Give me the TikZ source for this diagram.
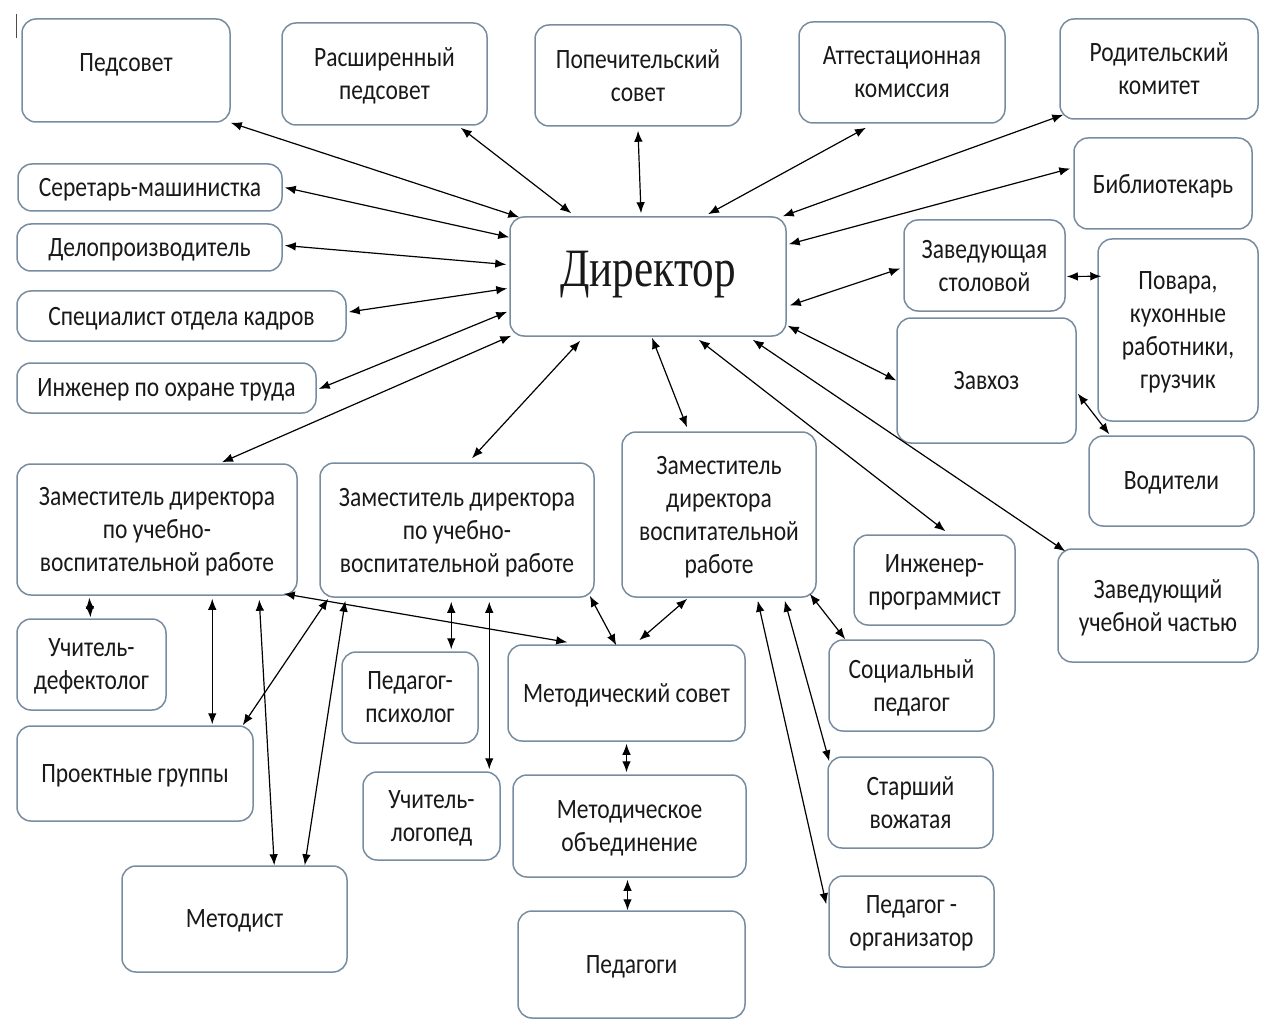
\documentclass[tikz,border=0pt]{standalone}
\usepackage{fontspec}
\setmainfont[FakeStretch=0.84]{Carlito}
\newfontfamily\dirfont[FakeStretch=0.8]{Liberation Serif}
\usetikzlibrary{arrows.meta,calc}
\definecolor{boxc}{RGB}{120,140,160}
\newcommand\mkbox[7][]{\node[box,#1,minimum width={(#4-(#2))*0.5pt},minimum height={(#5-(#3))*0.5pt}] (#6) at ({(#2+#4)/2},{(#3+#5)/2}) {#7};}
\begin{document}
\begin{tikzpicture}[x=0.5pt,y=-0.5pt,
  box/.style={draw=boxc,line width=0.75pt,rounded corners=7pt,inner sep=0pt,align=center,
    text depth=0pt,font=\fontsize{14}{16.5}\selectfont,text=black!90},
  arr/.style={line width=0.6pt,{Latex[length=5.5pt,width=4.3pt]}-{Latex[length=5.5pt,width=4.3pt]}}]
\useasboundingbox (0,0) rectangle (1277,1026);
\fill[white] (0,0) rectangle (1277,1026);
\draw[line width=0.5pt,black!70] (16,14) -- (16,38);

% top row
\mkbox[text depth=8pt]{22}{19}{230}{122}{ped}{Педсовет}
\mkbox{282}{23}{487}{125}{rped}{Расширенный\\педсовет}
\mkbox{535}{25}{741}{126}{pop}{Попечительский\\совет}
\mkbox{799}{22}{1005}{123}{att}{Аттестационная\\комиссия}
\mkbox{1060}{19}{1258}{119}{rod}{Родительский\\комитет}
\mkbox{1074}{138}{1252}{229}{bib}{Библиотекарь}
% director
\mkbox[font=\dirfont\fontsize{27}{30}\selectfont,text depth=8pt]{510}{217}{786}{336}{dir}{Директор}
% left column
\mkbox{18}{164}{282}{211}{sec}{Серетарь-машинистка}
\mkbox{17}{224}{282}{271}{del}{Делопроизводитель}
\mkbox{17}{291}{346}{341}{spec}{Специалист отдела кадров}
\mkbox{17}{363}{316}{413}{ing}{Инженер по охране труда}
% right side
\mkbox{904}{220}{1065}{311}{stol}{Заведующая\\столовой}
\mkbox{1098}{239}{1258}{421}{pov}{Повара,\\кухонные\\работники,\\грузчик}
\mkbox{897}{318}{1076}{443}{zavhoz}{Завхоз}
\mkbox{1089}{436}{1254}{526}{vod}{Водители}
\mkbox{854}{535}{1015}{625}{inzhp}{Инженер-\\программист}
\mkbox{1058}{549}{1258}{662}{zuch}{Заведующий\\учебной частью}
% deputies
\mkbox{17}{464}{297}{595}{z1}{Заместитель директора\\по учебно-\\воспитательной работе}
\mkbox{320}{463}{594}{597}{z2}{Заместитель директора\\по учебно-\\воспитательной работе}
\mkbox{622}{432}{816}{597}{zv}{Заместитель\\директора\\воспитательной\\работе}
% lower
\mkbox{17}{619}{166}{710}{def}{Учитель-\\дефектолог}
\mkbox{17}{726}{253}{821}{proj}{Проектные группы}
\mkbox{342}{652}{478}{743}{psy}{Педагог-\\психолог}
\mkbox{363}{772}{500}{860}{log}{Учитель-\\логопед}
\mkbox{122}{866}{347}{972}{met}{Методист}
\mkbox{508}{645}{745}{741}{msov}{Методический совет}
\mkbox{513}{775}{746}{877}{mob}{Методическое\\объединение}
\mkbox{518}{911}{745}{1018}{peds}{Педагоги}
\mkbox{829}{640}{994}{731}{soc}{Социальный\\педагог}
\mkbox{828}{757}{993}{848}{star}{Старший\\вожатая}
\mkbox{829}{876}{994}{967}{org}{Педагог -\\организатор}

% connectors to director
\draw[arr] (ped.south east) -- ($(dir.north west)+(10,1)$);
\draw[arr] ($(rped.south east)+(-27,2)$) -- ($(dir.north west)+(62,-3)$);
\draw[arr] ($(pop.south)+(0,4)$) -- ($(dir.north)+(-7,-3)$);
\draw[arr] ($(att.south)+(-36,4)$) -- ($(dir.north)+(60,-2)$);
\draw[arr] ($(rod.south west)+(4,-5)$) -- ($(dir.north east)+(-4,0)$);
\draw[arr] ($(bib.west)+(-3,-15)$) -- ($(dir.north east)+(2,28)$);
\draw[arr] ($(sec.east)+(2,0)$) -- ($(dir.north west)+(0,21)$);
\draw[arr] ($(del.east)+(2,-2)$) -- ($(dir.west)+(-3,-12)$);
\draw[arr] ($(spec.east)+(2,-4)$) -- ($(dir.west)+(-2,12)$);
\draw[arr] ($(ing.east)+(2,1)$) -- ($(dir.south west)+(-2,-25)$);
\draw[arr] ($(z1.north)+(65,-1)$) -- ($(dir.south west)+(2,-1)$);
\draw[arr] ($(z2.north)+(15,-4)$) -- ($(dir.south west)+(71,4)$);
\draw[arr] ($(zv.north)+(-32,-4)$) -- ($(dir.south)+(4,1)$);
\draw[arr] ($(stol.west)+(-3,3)$) -- ($(dir.east)+(3,29)$);
\draw[arr] (zavhoz.west) -- ($(dir.south east)+(1,-11)$);
\draw[arr] ($(inzhp.north)+(11,-3)$) -- ($(dir.south east)+(-88,3)$);
\draw[arr] ($(zuch.north west)+(8,3)$) -- ($(dir.south east)+(-34,3)$);
% right cluster
\draw[arr] ($(stol.east)+(1,11)$) -- ($(pov.north west)+(4,38)$);
\draw[arr] ($(zavhoz.east)+(1,13)$) -- ($(vod.north west)+(21,-1)$);
% deputies to subordinates
\draw[arr] ($(z1.south west)+(73,2)$) -- ($(def.north)+(-1,-1)$);
\draw[arr] ($(z1.south west)+(196,3)$) -- ($(proj.north west)+(196,-1)$);
\draw[arr] ($(z1.south west)+(243,4)$) -- ($(met.north west)+(153,0)$);
\draw[arr] ($(z2.south west)+(9,1)$) -- ($(proj.north east)+(-11,0)$);
\draw[arr] ($(z2.south west)+(26,3)$) -- ($(met.north east)+(-43,0)$);
\draw[arr] ($(z1.south east)+(-14,-2)$) -- ($(msov.north west)+(60,-2)$);
\draw[arr] ($(z2.south west)+(132,4)$) -- ($(psy.north west)+(110,-2)$);
\draw[arr] ($(z2.south west)+(170,4)$) -- ($(log.north west)+(127,-2)$);
\draw[arr] ($(z2.south east)+(-5,-2)$) -- ($(msov.north west)+(109,1)$);
\draw[arr] ($(zv.south west)+(66,1)$) -- ($(msov.north west)+(132,-4)$);
\draw[arr] ($(msov.south)+(0,2)$) -- ($(mob.north)+(-3,-2)$);
\draw[arr] ($(mob.south)+(-2,2)$) -- ($(peds.north)+(-4,0)$);
\draw[arr] ($(zv.south east)+(-7,-4)$) -- ($(soc.north west)+(17,0)$);
\draw[arr] ($(zv.south east)+(-32,3)$) -- ($(star.north west)+(2,5)$);
\draw[arr] ($(zv.south east)+(-59,3)$) -- ($(org.north west)+(-2,29)$);
\end{tikzpicture}
\end{document}
